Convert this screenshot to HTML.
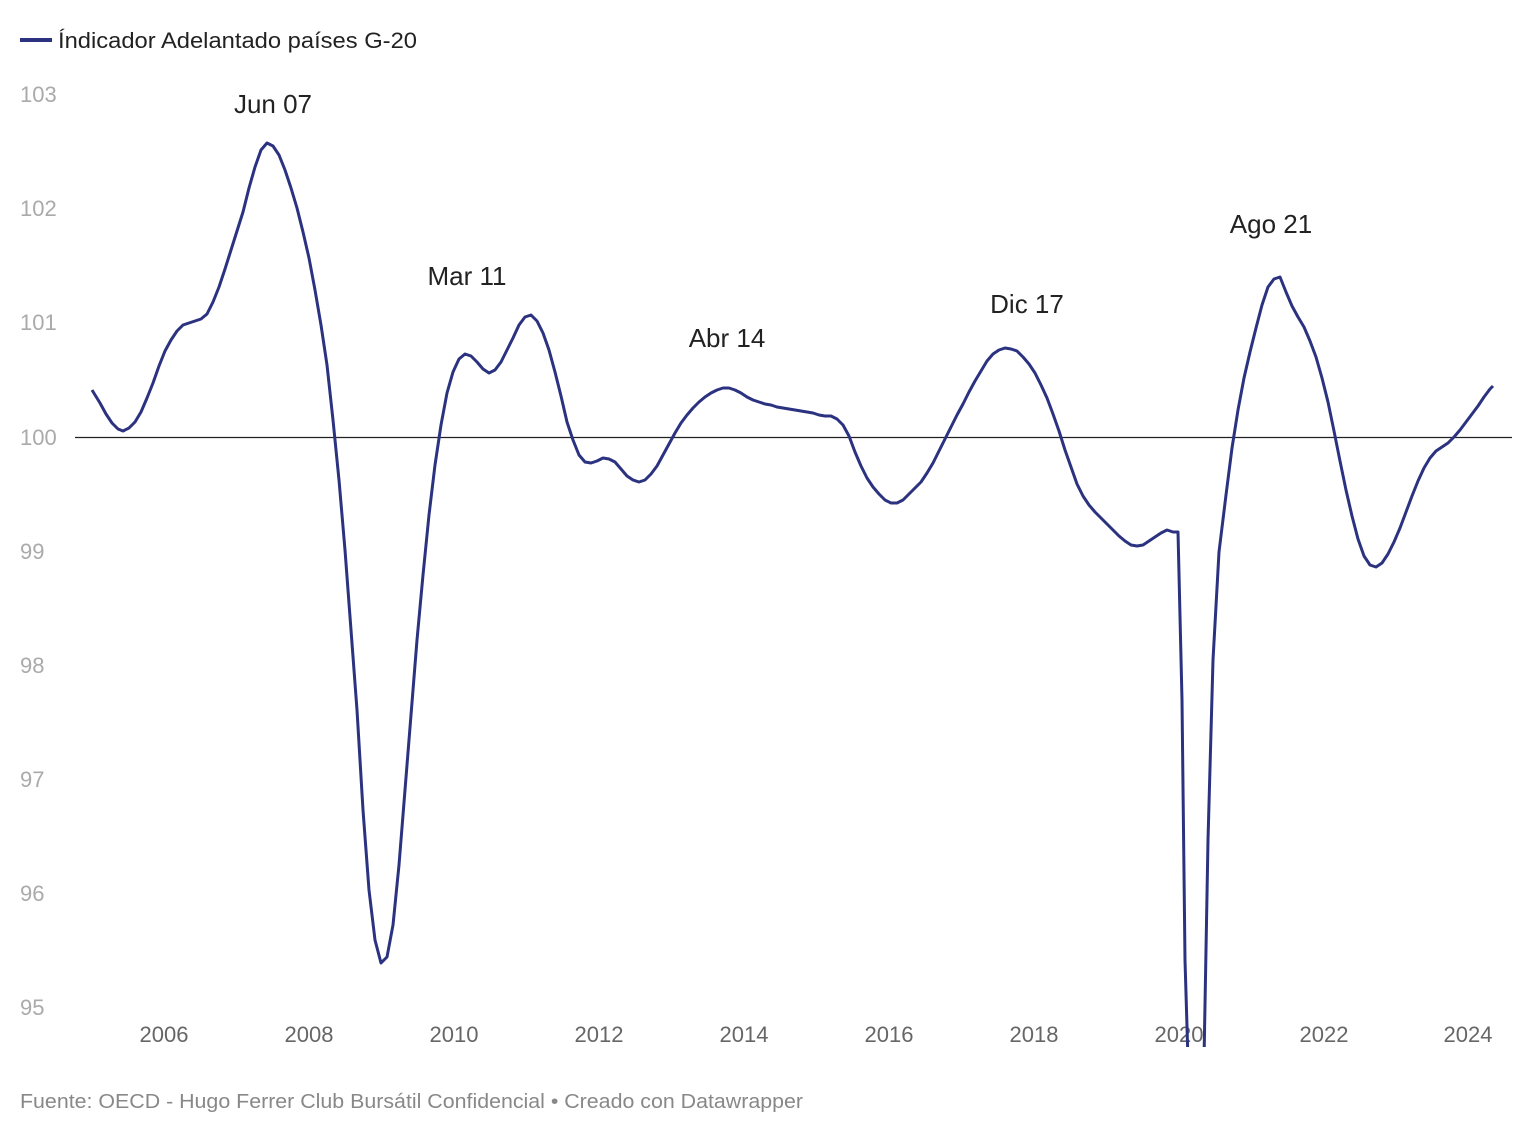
<!DOCTYPE html>
<html><head><meta charset="utf-8"><style>
html,body{margin:0;padding:0;background:#fff;}
svg{display:block;font-family:"Liberation Sans",sans-serif;}
</style></head><body>
<svg width="1536" height="1134" viewBox="0 0 1536 1134">
<defs><clipPath id="c"><rect x="0" y="60" width="1536" height="987"/></clipPath></defs>
<line x1="20" y1="40" x2="52" y2="40" stroke="#2b3280" stroke-width="4"/>
<text x="58" y="48" font-size="22" fill="#222" textLength="359" lengthAdjust="spacingAndGlyphs">Índicador Adelantado países G-20</text>
<g font-size="22" fill="#aaa">
<text x="20" y="102">103</text><text x="20" y="216">102</text><text x="20" y="330">101</text>
<text x="20" y="445">100</text><text x="20" y="559">99</text><text x="20" y="673">98</text>
<text x="20" y="787">97</text><text x="20" y="901">96</text><text x="20" y="1015">95</text>
</g>
<g font-size="22" fill="#666" text-anchor="middle">
<text x="164" y="1042">2006</text><text x="309" y="1042">2008</text><text x="454" y="1042">2010</text>
<text x="599" y="1042">2012</text><text x="744" y="1042">2014</text><text x="889" y="1042">2016</text>
<text x="1034" y="1042">2018</text><text x="1179" y="1042">2020</text><text x="1324" y="1042">2022</text>
<text x="1468" y="1042">2024</text>
</g>
<line x1="75" y1="437.5" x2="1512" y2="437.5" stroke="#222" stroke-width="1.3"/>
<polyline clip-path="url(#c)" fill="none" stroke="#2b3280" stroke-width="3" stroke-linejoin="round" points="92,390 100,403 106,414 112,423 118,429 123,431 129,428 135,422 141,412 147,398 153,383 159,366 165,351 171,340 177,331 183,325 189,323 195,321 201,319 207,314 213,302 219,287 225,269 231,250 237,231 243,212 249,188 255,167 261,150 267,143 273,146 279,155 285,170 291,188 297,208 303,232 309,258 315,290 321,325 327,365 333,420 339,480 345,550 351,630 357,710 363,810 369,890 375,940 381,963 387,957 393,925 399,865 405,790 411,715 417,640 423,575 429,515 435,465 441,425 447,393 453,372 459,359 465,354 471,356 477,362 483,369 489,373 495,370 501,362 507,350 513,338 519,325 525,317 531,315 537,321 543,333 549,350 555,372 561,396 567,422 573,440 579,455 585,462 591,463 597,461 603,458 609,459 615,462 621,469 627,476 633,480 639,482 645,480 651,474 657,466 663,455 669,444 675,433 681,423 687,415 693,408 699,402 705,397 711,393 717,390 723,388 729,388 735,390 741,393 747,397 753,400 759,402 765,404 771,405 777,407 783,408 789,409 795,410 801,411 807,412 813,413 819,415 825,416 831,416 837,419 843,425 849,436 855,452 861,466 867,478 873,487 879,494 885,500 891,503 897,503 903,500 909,494 915,488 921,482 927,473 933,463 939,451 945,439 951,427 957,415 963,404 969,392 975,381 981,371 987,361 993,354 999,350 1005,348 1011,349 1017,351 1023,357 1029,364 1035,373 1041,385 1047,398 1053,414 1059,431 1065,450 1071,467 1077,484 1083,496 1089,505 1095,512 1101,518 1107,524 1113,530 1119,536 1125,541 1131,545 1137,546 1143,545 1149,541 1155,537 1161,533 1167,530 1173,532 1178,532 1182,700 1185,960 1188,1060 1196,1110 1204,1060 1208,840 1213,660 1219,552 1226,495 1232,448 1238,410 1244,378 1250,352 1256,328 1262,305 1268,287 1274,279 1280,277 1286,292 1292,306 1298,317 1304,327 1310,341 1316,357 1322,378 1328,402 1334,431 1340,461 1346,490 1352,516 1358,539 1364,556 1370,565 1376,567 1382,563 1388,554 1394,542 1400,528 1406,512 1412,496 1418,481 1424,468 1430,458 1436,451 1442,447 1448,443 1454,437 1460,430 1466,422 1472,414 1478,406 1484,397 1490,389 1493,386"/>
<g font-size="26" fill="#222" text-anchor="middle">
<text x="273" y="113">Jun 07</text>
<text x="467" y="285">Mar 11</text>
<text x="727" y="347">Abr 14</text>
<text x="1027" y="313">Dic 17</text>
<text x="1271" y="233">Ago 21</text>
</g>
<text x="20" y="1108" font-size="20" fill="#888" textLength="783" lengthAdjust="spacingAndGlyphs">Fuente: OECD - Hugo Ferrer Club Bursátil Confidencial • Creado con Datawrapper</text>
</svg>
</body></html>
